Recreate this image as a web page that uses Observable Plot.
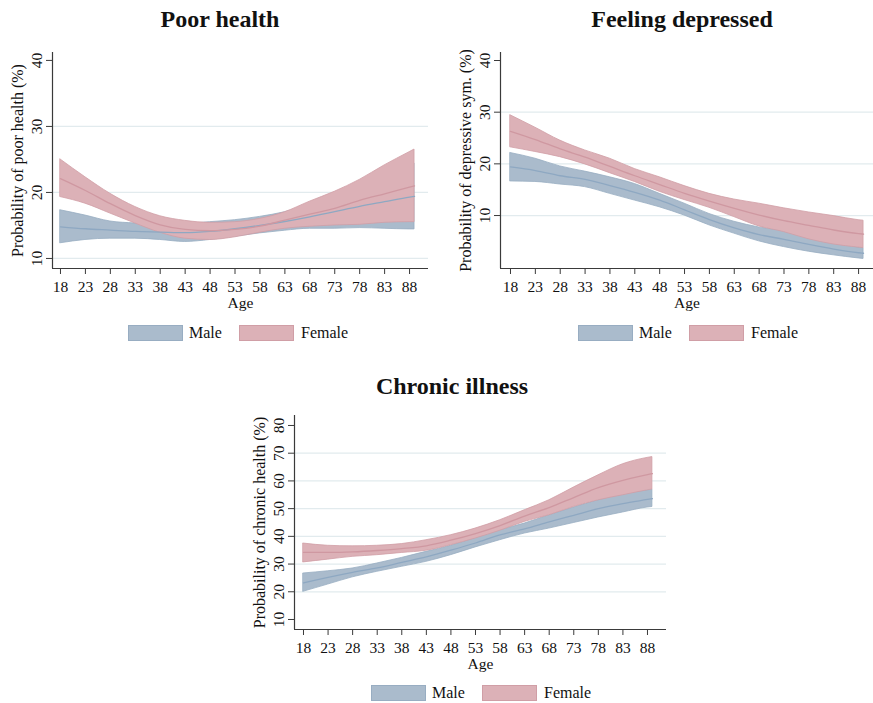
<!DOCTYPE html>
<html>
<head>
<meta charset="utf-8">
<script src="https://cdn.jsdelivr.net/npm/d3@7"></script>
<script src="https://cdn.jsdelivr.net/npm/@observablehq/plot@0.6"></script>
<style>
  body { margin: 0; background: #fff; }
  #page { position: relative; width: 873px; height: 703px; overflow: hidden;
          font-family: "Liberation Serif", "Times New Roman", serif; color: #111; }
  .title { position: absolute; font-weight: bold; font-size: 24px; line-height: 24px;
           transform: translateX(-50%); white-space: nowrap; }
  .panel { position: absolute; }
  .legend { position: absolute; height: 16px; }
  .sw { position: absolute; top: 0; width: 55px; height: 16px; box-sizing: border-box; border: 1px solid; }
  .lab { position: absolute; top: -1px; font-size: 16px; line-height: 18px; white-space: nowrap; }
</style>
</head>
<body>
<div id="page"></div>
<script>
// Age grid shared by all three panels (last point is the age-89 endpoint)
const ages = [18, 23, 28, 33, 38, 43, 48, 53, 58, 63, 68, 73, 78, 83, 88, 89];
const xTicks = [18, 23, 28, 33, 38, 43, 48, 53, 58, 63, 68, 73, 78, 83, 88];

// Poor health: predicted probability (%) with 95% CI
const malePoorMid   = [14.8, 14.5, 14.3, 14.1, 14.0, 13.9, 14.1, 14.5, 15.0, 15.6, 16.3, 17.1, 17.9, 18.6, 19.3, 19.4];
const malePoorLo    = [12.3, 12.8, 13.0, 13.0, 12.8, 12.5, 12.8, 13.3, 13.8, 14.2, 14.5, 14.5, 14.6, 14.5, 14.4, 14.4];
const malePoorHi    = [17.3, 16.5, 15.6, 15.3, 15.1, 15.2, 15.5, 15.8, 16.3, 17.0, 18.1, 19.6, 21.2, 22.7, 24.2, 24.4];
const femalePoorMid = [22.1, 20.3, 18.3, 16.5, 15.1, 14.4, 14.2, 14.4, 14.9, 15.8, 16.7, 17.6, 18.8, 19.8, 20.8, 21.0];
const femalePoorLo  = [19.3, 18.3, 16.8, 15.3, 13.9, 13.0, 12.8, 13.2, 13.9, 14.5, 14.8, 15.0, 15.1, 15.4, 15.5, 15.5];
const femalePoorHi  = [25.0, 22.3, 19.8, 17.8, 16.4, 15.7, 15.4, 15.5, 16.0, 17.0, 18.6, 20.1, 21.9, 24.1, 26.1, 26.5];

// Feeling depressed
const maleDepMid   = [19.4, 18.7, 17.7, 17.0, 15.8, 14.5, 13.0, 11.1, 9.2, 7.6, 6.3, 5.4, 4.4, 3.5, 2.8, 2.7];
const maleDepLo    = [16.6, 16.5, 16.0, 15.5, 14.2, 12.9, 11.6, 10.0, 8.1, 6.5, 5.0, 3.9, 3.0, 2.3, 1.7, 1.6];
const maleDepHi    = [22.1, 21.0, 19.5, 18.5, 17.4, 16.1, 14.2, 12.3, 10.3, 8.8, 7.7, 7.0, 5.8, 4.8, 3.8, 3.7];
const femaleDepMid = [26.3, 24.7, 22.9, 21.3, 19.5, 17.7, 16.0, 14.3, 12.8, 11.4, 10.1, 9.0, 8.1, 7.2, 6.5, 6.4];
const femaleDepLo  = [23.2, 22.3, 21.3, 19.9, 18.2, 16.5, 14.6, 13.0, 11.5, 9.7, 7.9, 6.8, 5.4, 4.4, 3.8, 3.7];
const femaleDepHi  = [29.4, 27.0, 24.5, 22.6, 21.0, 19.0, 17.4, 15.7, 14.2, 13.1, 12.3, 11.4, 10.6, 9.9, 9.1, 9.0];

// Chronic illness
const maleChrMid   = [23.2, 25.2, 27.0, 28.6, 30.6, 32.6, 35.0, 37.6, 40.5, 42.7, 45.2, 47.6, 50.0, 51.8, 53.3, 53.6];
const maleChrLo    = [20.0, 22.6, 25.2, 27.2, 29.0, 30.8, 33.2, 36.0, 38.6, 41.0, 42.8, 44.8, 46.8, 48.6, 50.4, 50.6];
const maleChrHi    = [26.6, 27.4, 28.4, 30.2, 32.2, 34.4, 36.6, 39.4, 42.2, 44.6, 47.6, 50.4, 53.0, 55.1, 56.6, 56.9];
const femaleChrMid = [34.2, 34.2, 34.4, 34.9, 35.6, 36.6, 38.6, 41.0, 43.9, 47.3, 50.4, 54.0, 57.6, 60.2, 62.3, 62.6];
const femaleChrLo  = [30.6, 31.6, 32.6, 33.2, 34.0, 34.8, 36.8, 39.2, 42.0, 45.2, 47.6, 50.6, 53.0, 54.8, 56.6, 56.9];
const femaleChrHi  = [37.4, 36.6, 36.4, 36.6, 37.2, 38.6, 40.4, 42.8, 45.8, 49.4, 53.0, 57.6, 62.0, 66.0, 68.3, 68.6];

const sexes = ["Male", "Female"];
const fills = {Male: "#aabbcc", Female: "#dcb1b7"};
const edges = {Male: "#98adc2", Female: "#d09ea6"};
const lines = {Male: "#8ea8c2", Female: "#cf98a1"};
const axisColor = "#3a3a3a";
const gridColor = "#e2ebee";

const rows = (mid, lo, hi) => ages.map((age, i) => ({age, mid: mid[i], lo: lo[i], hi: hi[i]}));

const page = document.getElementById("page");

function addTitle(text, cx, top) {
  const d = document.createElement("div");
  d.className = "title";
  d.textContent = text;
  d.style.left = cx + "px";
  d.style.top = top + "px";
  page.appendChild(d);
}

function addLegend(x, y) {
  const g = document.createElement("div");
  g.className = "legend";
  g.style.left = x + "px";
  g.style.top = y + "px";
  const offsets = {Male: [0, 61], Female: [111, 173]};
  for (const s of sexes) {
    const sw = document.createElement("div");
    sw.className = "sw";
    sw.style.left = offsets[s][0] + "px";
    sw.style.background = fills[s];
    sw.style.borderColor = edges[s];
    const t = document.createElement("div");
    t.className = "lab";
    t.style.left = offsets[s][1] + "px";
    t.textContent = s;
    g.appendChild(sw);
    g.appendChild(t);
  }
  page.appendChild(g);
}

function addPanel(cfg) {
  const male = cfg.male, female = cfg.female;
  const chart = Plot.plot({
    width: cfg.width,
    height: cfg.height,
    marginLeft: cfg.mL, marginRight: cfg.mR, marginTop: cfg.mT, marginBottom: cfg.mB,
    x: {type: "linear", domain: cfg.xDomain},
    y: {type: "linear", domain: cfg.yDomain},
    style: {fontFamily: "'Liberation Serif', 'Times New Roman', serif", color: axisColor, background: "transparent", overflow: "visible"},
    marks: [
      Plot.ruleY(cfg.grid, {stroke: gridColor, strokeWidth: 1.2}),
      Plot.areaY(male, {x: "age", y1: "lo", y2: "hi", fill: fills.Male, stroke: edges.Male, strokeWidth: 0.8, curve: "monotone-x"}),
      Plot.areaY(female, {x: "age", y1: "lo", y2: "hi", fill: fills.Female, stroke: edges.Female, strokeWidth: 0.8, curve: "monotone-x"}),
      Plot.lineY(male, {x: "age", y: "mid", stroke: lines.Male, strokeWidth: 1.3, curve: "monotone-x"}),
      Plot.lineY(female, {x: "age", y: "mid", stroke: lines.Female, strokeWidth: 1.3, curve: "monotone-x"}),
      Plot.ruleX([cfg.xDomain[0]], {stroke: axisColor, strokeWidth: 1.2}),
      Plot.ruleY([cfg.yDomain[0]], {stroke: axisColor, strokeWidth: 1.2}),
      Plot.axisX({ticks: xTicks, tickSize: 6, tickPadding: 6, fontSize: 15.5, label: null, stroke: axisColor, fill: "#111"}),
      Plot.axisY({ticks: cfg.yTicks, tickSize: 6, tickFormat: () => "", label: null, stroke: axisColor}),
      Plot.text(cfg.yTicks, {y: d => d, text: d => String(d), frameAnchor: "left", textAnchor: "middle", rotate: -90, dx: -15, fontSize: 15.5, fill: "#111"}),
      Plot.text([cfg.ylabel], {text: d => d, frameAnchor: "left", textAnchor: "middle", rotate: -90, dx: -35, fontSize: 16, fill: "#111"}),
      Plot.text(["Age"], {text: d => d, frameAnchor: "bottom", dy: 39, fontSize: 15.5, fill: "#111"})
    ]
  });
  const wrap = document.createElement("div");
  wrap.className = "panel";
  wrap.style.left = cfg.left + "px";
  wrap.style.top = cfg.top + "px";
  wrap.appendChild(chart);
  page.appendChild(wrap);
}

addTitle("Poor health", 220, 7);
addPanel({
  left: 0, top: 40, width: 435, height: 275, mL: 52, mR: 7, mT: 12, mB: 47,
  xDomain: [16.4, 91.8], yDomain: [8.48, 41.2],
  yTicks: [10, 20, 30, 40], grid: [10, 20, 30],
  ylabel: "Probability of poor health (%)",
  male: rows(malePoorMid, malePoorLo, malePoorHi),
  female: rows(femalePoorMid, femalePoorLo, femalePoorHi)
});
addLegend(128, 325);

addTitle("Feeling depressed", 682, 7);
addPanel({
  left: 440, top: 40, width: 433, height: 275, mL: 60, mR: 0, mT: 12, mB: 47,
  xDomain: [15.99, 91.0], yDomain: [-0.25, 41.55],
  yTicks: [10, 20, 30, 40], grid: [10, 20, 30],
  ylabel: "Probability of depressive sym. (%)",
  male: rows(maleDepMid, maleDepLo, maleDepHi),
  female: rows(femaleDepMid, femaleDepLo, femaleDepHi)
});
addLegend(578, 325);

addTitle("Chronic illness", 452, 374);
addPanel({
  left: 240, top: 400, width: 435, height: 275, mL: 54, mR: 9, mT: 15, mB: 46,
  xDomain: [16.17, 91.87], yDomain: [6.39, 83.6],
  yTicks: [10, 20, 30, 40, 50, 60, 70, 80], grid: [20, 30, 40, 50, 60, 70],
  ylabel: "Probability of chronic health (%)",
  male: rows(maleChrMid, maleChrLo, maleChrHi),
  female: rows(femaleChrMid, femaleChrLo, femaleChrHi)
});
addLegend(371, 685);
</script>
</body>
</html>
